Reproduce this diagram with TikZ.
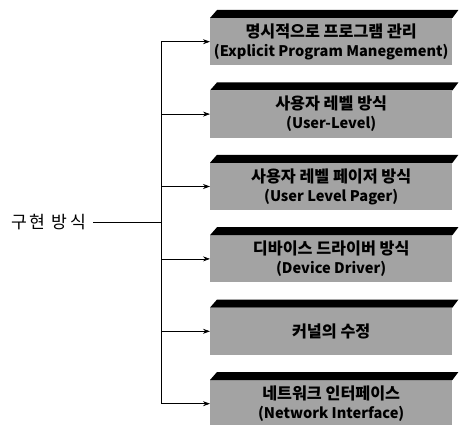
\documentclass[tikz,border=0pt]{standalone}
\usepackage{fontspec}
\setmainfont{Noto Sans CJK KR}
\usetikzlibrary{arrows.meta}
\newcommand\krline[1]{{\fontsize{16.2}{19}\selectfont #1}}
\begin{document}
\begin{tikzpicture}[x=1pt,y=-1pt,
  box/.style={fill=black!36, minimum width=242pt, minimum height=47pt, inner sep=0pt,
    anchor=north west, align=center, font=\bfseries\fontsize{14.6}{19}\selectfont},
  band/.style={fill=black},
  conn/.style={-{Stealth[length=7pt,width=5pt]}, line width=0.7pt},
  trunk/.style={line width=0.7pt}]
\useasboundingbox (0,0) rectangle (461,425);
\node[box] (b1) at (210,18)    {\krline{명시적으로 프로그램 관리}\\(Explicit Program Manegement)};
\node[box] (b2) at (210,90.4)  {\krline{사용자 레벨 방식}\\(User-Level)};
\node[box] (b3) at (210,162.8) {\krline{사용자 레벨 페이저 방식}\\(User Level Pager)};
\node[box] (b4) at (210,235.2) {\krline{디바이스 드라이버 방식}\\(Device Driver)};
\node[box] (b5) at (210,307.6) {\krline{커널의 수정}};
\node[box] (b6) at (210,380)   {\krline{네트워크 인터페이스}\\(Network Interface)};
\foreach \b in {b1,b2,b3,b4,b5,b6}{
  \fill[band] (\b.north west) -- ++(7,-8) -- ([shift={(6,-8)}]\b.north east) -- (\b.north east) -- cycle;
  \coordinate (t\b) at (161,0 |- \b.west);
  \draw[conn] (t\b) -- (\b.west);
}
\draw[trunk] (tb1) -- (tb6);
\node[font=\fontsize{17.2}{18}\selectfont\addfontfeature{LetterSpace=15}, inner sep=0pt, anchor=west] (lab) at (11,222) {구현 방식};
\coordinate (j) at (161,222);
\draw[trunk] ([xshift=7pt]lab.east) -- (j);
\end{tikzpicture}
\end{document}
